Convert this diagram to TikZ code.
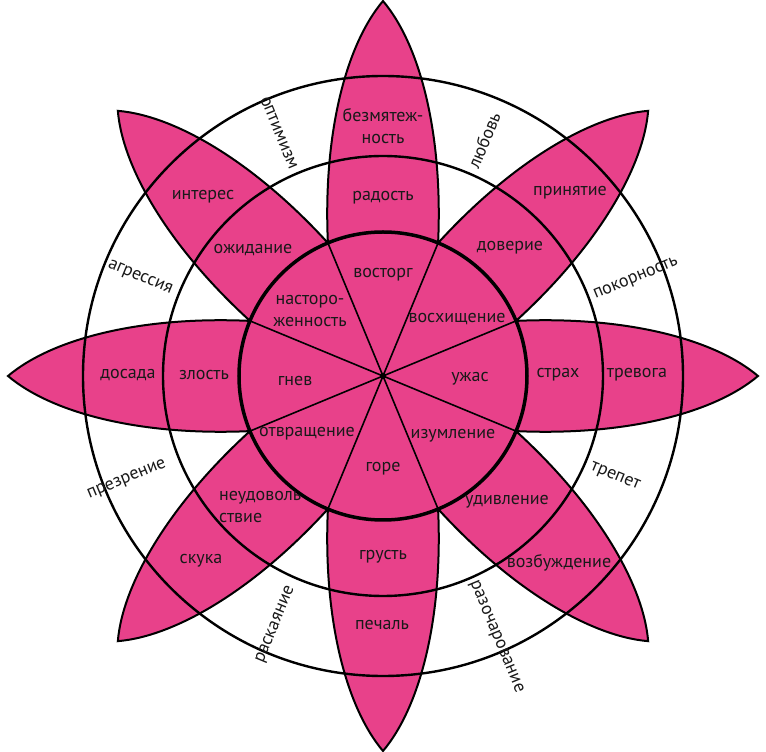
\documentclass[tikz,border=0pt]{standalone}
\usepackage{fontspec}
\setmainfont{PT Sans}
\definecolor{petal}{RGB}{232,65,138}
\definecolor{ink}{RGB}{25,25,25}
\tikzset{
  lbl/.style={text=ink, inner sep=0pt, font=\fontsize{18}{22}\selectfont, align=center},
  ringline/.style={draw=black, line width=2.4pt},
  edgeline/.style={draw=black, line width=2pt, line join=miter},
  spoke/.style={draw=black, line width=1.6pt},
}
\begin{document}
\begin{tikzpicture}[x=1pt,y=1pt]
\useasboundingbox (-383,-376) rectangle (383,376);
\fill[white] (-383,-376) rectangle (383,376);
% petals fill
\foreach \a in {0,45,...,315}{
  \fill[petal,rotate=\a] (22.5:144) .. controls (240,60) and (330,38) .. (375,0)
    .. controls (330,-38) and (240,-60) .. (-22.5:144)
    arc[start angle=-22.5,end angle=22.5,radius=144] -- cycle;
}
\fill[petal] (0,0) circle (144);
% rings
\draw[ringline] (0,0) circle (220);
\draw[ringline] (0,0) circle (300);
% petal edges
\foreach \a in {0,45,...,315}{
  \draw[edgeline,rotate=\a] (22.5:144) .. controls (240,60) and (330,38) .. (375,0)
    .. controls (330,-38) and (240,-60) .. (-22.5:144);
}
% inner circle and spokes
\foreach \a in {22.5,67.5,...,337.5}{
  \draw[spoke] (0,0) -- (\a:144);
}
\draw[draw=black, line width=3.5pt] (0,0) circle (144);
\fill[black] (0,0) circle (3);
% inner labels
\node[lbl] (vostorg) at (0,101) {восторг};
\node[lbl] (nastor) at (-73,65) {насторо-\\женность};
\node[lbl] (voshish) at (74,57) {восхищение};
\node[lbl] (gnev) at (-88,-5) {гнев};
\node[lbl] (uzhas) at (87,-3) {ужас};
\node[lbl] (otvr) at (-76,-58) {отвращение};
\node[lbl] (izum) at (70,-60) {изумление};
\node[lbl] (gore) at (0,-93) {горе};
% middle ring labels
\node[lbl] (radost) at (0,178) {радость};
\node[lbl] (zlost) at (-179,1) {злость};
\node[lbl] (strah) at (175,1) {страх};
\node[lbl] (grust) at (0,-181) {грусть};
\node[lbl] (ozhid) at (-130,126) {ожидание};
\node[lbl] (dover) at (127,128) {доверие};
\node[lbl, anchor=west, align=left] (neudov) at (-164,-131) {неудоволь\\ствие};
\node[lbl] (udivl) at (124,-126) {удивление};
% outer petal labels
\node[lbl] (bezm) at (0,250) {безмятеж-\\ность};
\node[lbl] (dosada) at (-255,1) {досада};
\node[lbl] (trevoga) at (254,1) {тревога};
\node[lbl] (pechal) at (-1,-249) {печаль};
\node[lbl] (interes) at (-180,179) {интерес};
\node[lbl] (prinyat) at (187,183) {принятие};
\node[lbl] (skuka) at (-182,-185) {скука};
\node[lbl] (vozb) at (176,-187) {возбуждение};
% ring labels
\node[lbl, rotate=-67.5] (optim) at (-104,243) {оптимизм};
\node[lbl, rotate=67.5] (lubov) at (101,236) {любовь};
\node[lbl, rotate=-22.5] (agress) at (-243,98) {агрессия};
\node[lbl, rotate=22.5] (pokor) at (253,97) {покорность};
\node[lbl, rotate=22.5] (prezr) at (-256,-104) {презрение};
\node[lbl, rotate=-22.5] (trepet) at (232,-101) {трепет};
\node[lbl, rotate=67.5] (raskay) at (-107,-249) {раскаяние};
\node[lbl, rotate=-67.5] (razoch) at (113,-261) {разочарование};
\end{tikzpicture}
\end{document}
